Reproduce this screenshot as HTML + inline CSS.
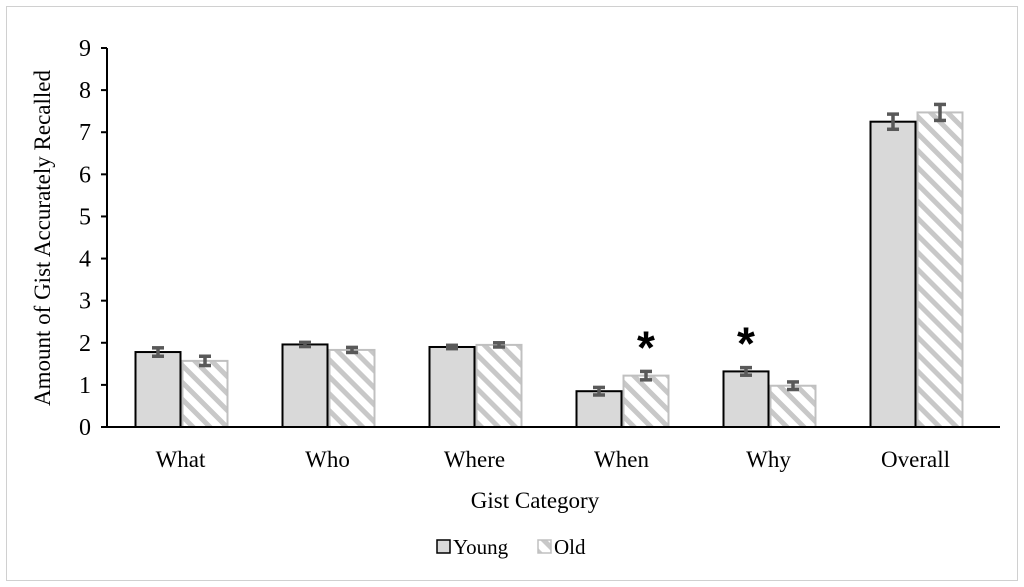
<!DOCTYPE html>
<html><head><meta charset="utf-8"><style>
body{margin:0;background:#fff}
svg{display:block;font-family:"Liberation Serif",serif}
</style></head><body>
<svg width="1024" height="587" viewBox="0 0 1024 587">
<defs>
<pattern id="hatch" patternUnits="userSpaceOnUse" width="12" height="12" patternTransform="rotate(-45)">
<rect width="12" height="12" fill="#fff"/>
<rect x="0" y="0" width="5" height="12" fill="#c8c8c8"/>
</pattern>
</defs>
<rect x="6.5" y="6.5" width="1011" height="574" fill="#fff" stroke="#d0d0d0"/>
<g id="plot"></g>
<text transform="translate(50,238) rotate(-90)" text-anchor="middle" font-size="23">Amount of Gist Accurately Recalled</text>
<text x="535" y="508" text-anchor="middle" font-size="23">Gist Category</text>
<g>
<rect x="437" y="540" width="13" height="13" fill="#d9d9d9" stroke="#000" stroke-width="1.5"/>
<text x="453" y="554" font-size="21">Young</text>
<rect x="538" y="540" width="13" height="13" fill="url(#hatch)" stroke="#c0c0c0" stroke-width="1.5"/>
<text x="554" y="554" font-size="21">Old</text>
</g>
</svg>
<script>
const categories=["What","Who","Where","When","Why","Overall"];
const young=[1.78,1.96,1.90,0.85,1.32,7.25];
const old=[1.57,1.83,1.95,1.22,0.98,7.47];
const youngErr=[0.10,0.05,0.04,0.09,0.09,0.18];
const oldErr=[0.11,0.06,0.05,0.10,0.09,0.19];
const yTicks=[0,1,2,3,4,5,6,7,8,9];
const significant=[{cat:3,series:"old"},{cat:4,series:"young"}];

const NS="http://www.w3.org/2000/svg";
const g=document.getElementById('plot');
const x0=107,x1=1000,bandEnd=989,yBase=427,yTop=48,yMax=9;
const y=v=>yBase-(v/yMax)*(yBase-yTop);
const band=(bandEnd-x0)/categories.length;
const cx=i=>x0+band*(i+0.5);
const bw=45;
function mk(t,a){const e=document.createElementNS(NS,t);for(const k in a)e.setAttribute(k,a[k]);g.appendChild(e);return e;}
yTicks.forEach(t=>{
 const tk=mk('line',{x1:x0-6,x2:x0,y1:y(t),y2:y(t),stroke:'#000','stroke-width':2});
 
 
 const lb=mk('text',{x:x0-16,y:y(t)+8,'text-anchor':'end','font-size':24});
 lb.textContent=t;
 
 
});
function err(xc,v,e){
 const a={stroke:'#595959','stroke-width':3.5};
 const l1=mk('line',Object.assign({x1:xc,x2:xc,y1:y(v+e),y2:y(v-e)},a));
 
 
 mk('line',Object.assign({x1:xc-6,x2:xc+6,y1:y(v+e),y2:y(v+e)},a));
 mk('line',Object.assign({x1:xc-6,x2:xc+6,y1:y(v-e),y2:y(v-e)},a));
}
categories.forEach((c,i)=>{
 const c0=cx(i);
 const r1=mk('rect',{x:c0-bw,y:y(young[i]),width:bw,height:yBase-y(young[i]),fill:'#d9d9d9',stroke:'#000','stroke-width':2});
 
 
 const r2=mk('rect',{x:c0+2,y:y(old[i]),width:bw,height:yBase-y(old[i]),fill:'url(#hatch)',stroke:'#c0c0c0','stroke-width':2});
 
 
 err(c0-bw/2,young[i],youngErr[i]);
 err(c0+2+bw/2,old[i],oldErr[i]);
 const lb=mk('text',{x:c0,y:467,'text-anchor':'middle','font-size':23});
 lb.textContent=c;
 
 
});
significant.forEach(s=>{
 const i=s.cat;const v=s.series==='old'?old[i]+oldErr[i]:young[i]+youngErr[i];
 const xc=s.series==='old'?cx(i)+2+bw/2:cx(i)-bw/2;
 const t=mk('text',{x:xc,y:y(v)-8,'text-anchor':'middle','font-size':46,'font-weight':'bold','font-family':'Liberation Sans,sans-serif'});
 t.textContent='*';
 
 
});
const ya=mk('line',{x1:x0,x2:x0,y1:yTop,y2:yBase,stroke:'#000','stroke-width':2});


const xa=mk('line',{x1:x0,x2:x1,y1:yBase,y2:yBase,stroke:'#000','stroke-width':2});


</script>
</body></html>
